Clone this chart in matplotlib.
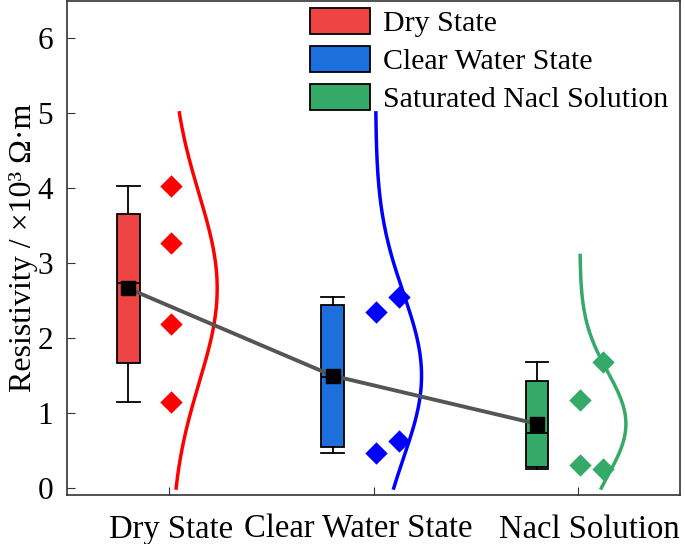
import numpy as np
import matplotlib
matplotlib.use('Agg')
import matplotlib.pyplot as plt
import matplotlib.transforms as mtransforms
from matplotlib.patches import Patch

plt.rcParams['font.family'] = ['Liberation Serif', 'DejaVu Serif']

# data (x10^3 Ohm m)
categories = ['Dry State', 'Clear Water State', 'Nacl Solution']
legend_labels = ['Dry State', 'Clear Water State', 'Saturated Nacl Solution']
dry = [4.03, 3.27, 2.19, 1.15]
clear = [2.34, 2.55, 0.47, 0.63]
nacl = [1.17, 1.68, 0.31, 0.26]
groups = [dry, clear, nacl]
curve_top = [5.0, 5.0, 3.1]

box_colors = ['#EF4444', '#1C6FDC', '#35AA68']
point_colors = ['#FF0000', '#0000FF', '#35AA68']

fig = plt.figure(figsize=(6.85, 5.44), dpi=100)
ax = fig.add_axes([0.0978, 0.090, 0.895, 0.908])

pos = np.arange(1, len(groups) + 1)
box_off = -0.2
means = []

for i, vals in enumerate(groups):
    v = np.sort(np.array(vals))
    n = len(v)
    lower = v[:n // 2]
    upper = v[(n + 1) // 2:]
    stats = dict(med=np.median(v), q1=np.median(lower), q3=np.median(upper),
                 whislo=v.min(), whishi=v.max(), fliers=[], mean=v.mean())
    means.append(v.mean())
    ax.bxp([stats], positions=[pos[i] + box_off], widths=0.11, patch_artist=True,
           showfliers=False, showmeans=False,
           boxprops=dict(facecolor=box_colors[i], edgecolor='black', linewidth=1.3),
           medianprops=dict(color='black', linewidth=1.3),
           whiskerprops=dict(color='black', linewidth=1.3),
           capprops=dict(color='black', linewidth=1.3), capwidths=0.11)

    # data points
    if i == 0:
        xs = np.full(len(vals), pos[i] + 0.01)
    else:
        xs = pos[i] + np.array([0.01, 0.125, 0.01, 0.125])
    ax.scatter(xs, vals, marker='D', s=130, color=point_colors[i], zorder=4, linewidths=0)

    # normal curve
    sd = np.std(vals, ddof=1)
    yy = np.linspace(0, curve_top[i], 200)
    dens = np.exp(-0.5 * ((yy - np.mean(vals)) / sd) ** 2)
    ax.plot(pos[i] + 0.01 + 0.225 * dens, yy, color=point_colors[i], lw=2.5, zorder=3)

# mean line
ax.plot(pos + box_off, means, color='#555555', lw=2.8, zorder=5)
ax.scatter(pos + box_off, means, marker='s', s=110, color='black', zorder=6)

ax.set_xlim(0.5, 3.5)
ax.set_ylim(-0.093, 6.49)
ax.set_xticks(pos)
ax.set_xticklabels(categories, fontsize=23.5)
ax.set_yticks(range(0, 7))
ax.tick_params(axis='y', labelsize=22.5, direction='in', length=6, color='#333333', pad=10)
ax.tick_params(axis='x', direction='in', length=6, color='#333333', pad=14)
for s in ax.spines.values():
    s.set_color('#333333')
    s.set_linewidth(1.2)
ax.set_ylabel('Resistivity / ×10³ Ω·m', fontsize=23)
ax.yaxis.set_label_coords(-0.047, 0.5)

# nudge x tick labels like the original
shifts = [2, -15, 11]
for lab, dx in zip(ax.get_xticklabels(), shifts):
    lab.set_transform(lab.get_transform() + mtransforms.ScaledTranslation(dx / 100, 0, fig.dpi_scale_trans))

handles = [Patch(facecolor=c, edgecolor='black', linewidth=1.3) for c in box_colors]
ax.legend(handles, legend_labels, loc='upper right', bbox_to_anchor=(1.01, 1.022),
          frameon=False, fontsize=21.5, handlelength=2.0, handleheight=0.95,
          labelspacing=0.3, handletextpad=0.45, borderaxespad=0.2)

fig.savefig('out.png', dpi=100)
